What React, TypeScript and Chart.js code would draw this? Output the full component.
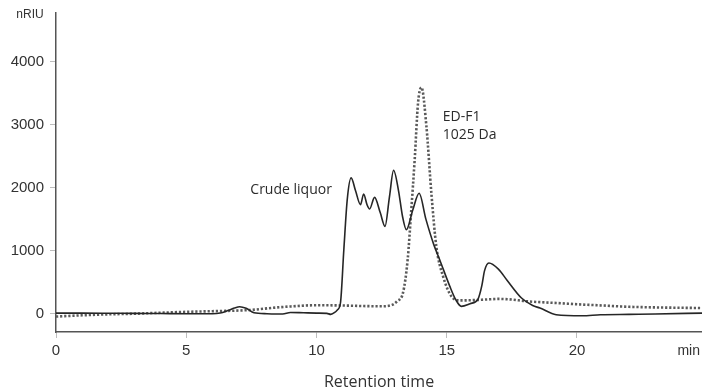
import React, { useEffect, useRef } from "react";
import { Chart, registerables } from "chart.js";

Chart.register(...registerables);

// Retention time (min) and refractive index signal (nRIU) for the crude liquor trace
const crudeTime = [
  0, 1, 2, 3, 4, 5, 6, 6.3, 6.6, 6.85, 7.05, 7.3, 7.6, 8.1, 8.7, 9.0, 9.5, 10.0, 10.4, 10.55,
  10.7, 10.8, 10.92, 11.05, 11.18, 11.33, 11.5, 11.69, 11.81, 11.94, 12.04, 12.23, 12.45, 12.63,
  12.8, 12.96, 13.15, 13.3, 13.45, 13.7, 13.94, 14.2, 14.5, 14.73, 15.12, 15.35, 15.56, 15.9,
  16.2, 16.35, 16.45, 16.62, 17.0, 17.3, 17.87, 18.3, 18.58, 19.2, 20.2, 20.9, 22, 23, 24.8,
];
const crudeSignal = [
  10, 10, 8, 5, 3, 0, 0, 10, 50, 90, 110, 85, 15, 0, -5, 20, 15, 10, 5, -10,
  20, 60, 170, 1015, 1807, 2154, 1950, 1730, 1900, 1730, 1662, 1846, 1600, 1386,
  1850, 2275, 1950, 1550, 1333, 1650, 1910, 1500, 1100, 857, 433, 220, 117, 160,
  233, 450, 680, 805, 700, 540, 249, 130, 90, -16, -32, -16, -10, -5, 10,
];

// ED-F1 (1025 Da) fraction trace
const fractionTime = [
  0, 1, 2, 3, 4, 5, 6, 7, 7.5, 8.0, 8.5, 9, 10, 11, 12, 12.5, 12.9, 13.1, 13.32, 13.5, 13.64,
  13.77, 13.9, 14.03, 14.22, 14.41, 14.6, 14.86, 15.18, 15.5, 16, 16.5, 17, 17.5, 18, 19.2,
  20, 21, 22, 23, 24.8,
];
const fractionSignal = [
  -45, -25, -10, 0, 15, 30, 40, 50, 60, 80, 100, 115, 135, 130, 120, 118, 140, 200, 330, 857, 1650,
  2444, 3349, 3590, 2973, 1915, 1069, 592, 275, 211, 215, 225, 235, 225, 200, 170,
  150, 130, 110, 100, 90,
];

const yTickValues = [0, 1000, 2000, 3000, 4000];
const xTickValues = [0, 5, 10, 15, 20];

// Peak annotations placed in data coordinates
const annotations = [
  { text: "Crude liquor", x: 7.46, y: 1966 },
  { text: "ED-F1", x: 14.85, y: 3123 },
  { text: "1025 Da", x: 14.85, y: 2838 },
];

const toPoints = (xs: number[], ys: number[]) => xs.map((x, i) => ({ x, y: ys[i] }));

const tickFont = { family: "'Liberation Sans', Arial, sans-serif", size: 15 };

const textPlugin = {
  id: "chromatogramText",
  afterDraw(chart: any) {
    const { ctx, chartArea, scales } = chart;
    ctx.save();
    ctx.fillStyle = "#2b2b2b";
    ctx.textBaseline = "middle";
    ctx.font = "14px 'Open Sans', sans-serif";
    ctx.textAlign = "left";
    for (const a of annotations) {
      ctx.fillText(a.text, scales.x.getPixelForValue(a.x), scales.y.getPixelForValue(a.y));
    }
    ctx.fillStyle = "#333";
    ctx.font = "12px 'Liberation Sans', Arial, sans-serif";
    ctx.textAlign = "center";
    ctx.fillText("nRIU", chartArea.left - 26, chartArea.top + 2);
    ctx.font = "14px 'Liberation Sans', Arial, sans-serif";
    ctx.textAlign = "right";
    ctx.fillText("min", chartArea.right - 2, chartArea.bottom + 19);
    ctx.restore();
  },
};

export default function App() {
  const canvasRef = useRef<HTMLCanvasElement>(null);

  useEffect(() => {
    if (!canvasRef.current) return;
    const chart = new Chart(canvasRef.current, {
      type: "line",
      data: {
        datasets: [
          {
            label: "Crude liquor",
            data: toPoints(crudeTime, crudeSignal),
            borderColor: "#262626",
            borderWidth: 1.6,
            pointRadius: 0,
            cubicInterpolationMode: "monotone",
            fill: false,
          },
          {
            label: "ED-F1 1025 Da",
            data: toPoints(fractionTime, fractionSignal),
            borderColor: "#5a5a5a",
            borderWidth: 2.6,
            borderDash: [2.2, 1.9],
            pointRadius: 0,
            cubicInterpolationMode: "monotone",
            fill: false,
          },
        ],
      },
      options: {
        responsive: false,
        animation: false,
        layout: { padding: { top: 13, right: 0, left: 0, bottom: 0 } },
        plugins: { legend: { display: false }, tooltip: { enabled: false } },
        scales: {
          x: {
            type: "linear",
            min: 0,
            max: 24.8,
            afterBuildTicks: (s: any) => {
              s.ticks = xTickValues.map((v) => ({ value: v }));
            },
            afterFit: (s: any) => {
              s.height = 60;
              s.paddingLeft = 0;
              s.paddingRight = 0;
            },
            ticks: {
              color: "#333",
              font: tickFont,
              padding: 4,
              maxRotation: 0,
              callback: (v: any) => String(v),
            },
            grid: { drawOnChartArea: false, drawTicks: true, tickLength: 6, color: "#bdbdbd" },
            border: { color: "#555", width: 1.5 },
            title: {
              display: true,
              text: "Retention time",
              color: "#333",
              font: { family: "'Open Sans', sans-serif", size: 16 },
              padding: { top: 0, bottom: 0 },
            },
          },
          y: {
            type: "linear",
            min: -290,
            max: 4770,
            afterBuildTicks: (s: any) => {
              s.ticks = yTickValues.map((v) => ({ value: v }));
            },
            afterFit: (s: any) => {
              s.width = 56;
              s.paddingTop = 0;
              s.paddingBottom = 0;
            },
            ticks: { color: "#333", font: tickFont, padding: 6, callback: (v: any) => String(v) },
            grid: { drawOnChartArea: false, drawTicks: true, tickLength: 6, color: "#bdbdbd" },
            border: { color: "#555", width: 1.5 },
          },
        },
      },
      plugins: [textPlugin],
    });
    return () => chart.destroy();
  }, []);

  return (
    <div style={{ position: "fixed", left: 0, top: 0, width: 702, height: 392, background: "#fff" }}>
      <canvas ref={canvasRef} width={702} height={392} />
    </div>
  );
}
